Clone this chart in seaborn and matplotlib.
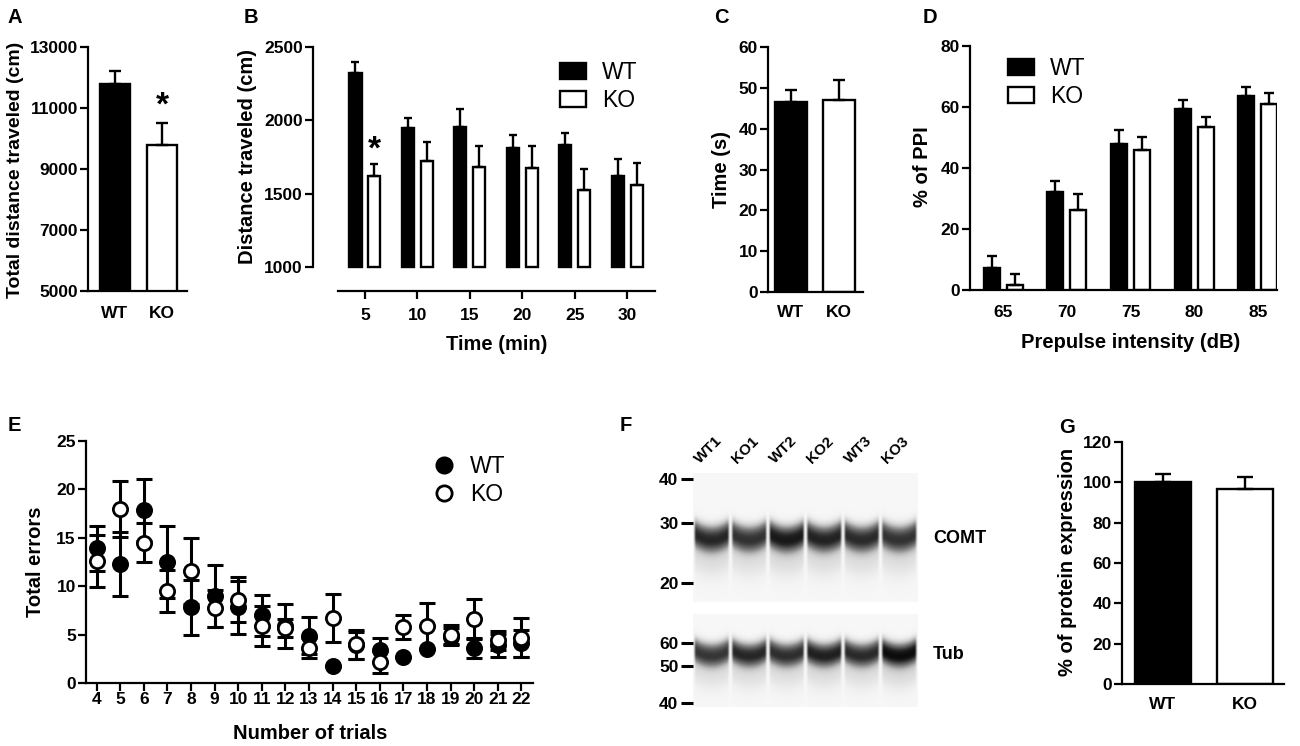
""" Multi-panel figure: open field, PPI, maze errors, western blot for WT vs KO mice. """

import numpy as np
import pandas as pd
import seaborn as sns
import matplotlib.pyplot as plt
from matplotlib.patches import Patch
from matplotlib.lines import Line2D

# ---- data ----
genotypes = ["WT", "KO"]

# A: total distance travelled (cm), mean and SEM
total_distance = [11800, 9800]
total_distance_sem = [400, 700]

# B: distance per 5-min bin (cm)
time_bins = [5, 10, 15, 20, 25, 30]
dist_wt = [2320, 1950, 1955, 1810, 1830, 1620]
dist_wt_sem = [80, 65, 120, 90, 85, 115]
dist_ko = [1620, 1725, 1685, 1675, 1525, 1560]
dist_ko_sem = [80, 130, 140, 150, 140, 150]

# C: time (s)
center_time = [46.5, 47.0]
center_time_sem = [3.0, 4.8]

# D: prepulse inhibition (%)
prepulse_db = [65, 70, 75, 80, 85]
ppi_wt = [7.2, 32.2, 47.9, 59.2, 63.6]
ppi_wt_sem = [4.0, 3.7, 4.5, 3.0, 3.0]
ppi_ko = [1.5, 26.2, 46.0, 53.3, 61.0]
ppi_ko_sem = [3.8, 5.2, 4.2, 3.4, 3.5]

# E: total errors per trial
trials = [4, 5, 6, 7, 8, 9, 10, 11, 12, 13, 14, 15, 16, 17, 18, 19, 20, 21, 22]
errors_wt = [13.9, 12.3, 17.9, 12.5, 7.8, 9.0, 7.8, 7.0, 5.9, 4.9, 1.8, 3.9,
             3.4, 2.7, 3.5, 4.8, 3.6, 3.9, 4.1]
errors_wt_sem = [2.3, 3.3, 3.2, 3.7, 2.8, 3.2, 2.7, 2.1, 2.3, 1.9, 0.0, 1.4,
                 1.2, 0.0, 0.0, 0.9, 1.0, 1.2, 1.4]
errors_ko = [12.6, 18.0, 14.5, 9.5, 11.6, 7.7, 8.6, 5.9, 5.7, 3.6, 6.7, 4.0,
             2.2, 5.8, 5.9, 5.0, 6.6, 4.4, 4.7]
errors_ko_sem = [2.65, 2.9, 2.0, 2.2, 3.4, 1.9, 2.3, 2.1, 0.9, 1.0, 2.45, 1.5,
                 1.15, 1.25, 2.4, 1.0, 2.1, 1.0, 2.0]

# F: western blot, relative band darkness per lane
lanes = ["WT1", "KO1", "WT2", "KO2", "WT3", "KO3"]
comt_band = [0.74, 0.71, 0.78, 0.75, 0.73, 0.71]
tub_band = [0.70, 0.74, 0.72, 0.76, 0.73, 0.82]
comt_ladder_kda = ["40", "30", "20"]
comt_ladder_pos = [0.047, 0.39, 0.85]
tub_ladder_kda = ["60", "50", "40"]
tub_ladder_pos = [0.31, 0.56, 0.96]
comt_band_pos = 0.51
tub_band_pos = 0.44

# G: protein expression (%)
protein_expr = [100.0, 96.5]
protein_expr_sem = [4.0, 6.3]

palette = {"WT": "black", "KO": "white"}

# ---- style ----
sns.set_theme(style="ticks")
plt.rcParams.update({
    "axes.linewidth": 1.6,
    "axes.edgecolor": "black",
    "axes.labelcolor": "black",
    "axes.labelweight": "bold",
    "axes.labelsize": 14.5,
    "xtick.color": "black",
    "ytick.color": "black",
    "xtick.labelsize": 12.5,
    "ytick.labelsize": 12.5,
    "xtick.major.width": 1.6,
    "ytick.major.width": 1.6,
    "xtick.major.size": 5.8,
    "ytick.major.size": 5.8,
    "ytick.major.pad": 1.5,
    "font.weight": "bold",
    "text.color": "black",
})
plt.rcParams["font.family"] = ["Liberation Sans", "DejaVu Sans"]

BAR_LW = 1.7
ERR_LW = 1.7
W, H = 1300, 746
fig = plt.figure(figsize=(W / 100, H / 100), dpi=100)


def add_ax(rect):
    l, t, r, b = rect
    return fig.add_axes([l / W, 1 - b / H, (r - l) / W, (b - t) / H])


def px_in_ax(rect, px, py):
    l, t, r, b = rect
    return (px - l) / (r - l), (b - py) / (b - t)


def add_sem(ax, sems, capsize):
    bars = [p for c in ax.containers for p in c]
    xs = [p.get_x() + p.get_width() / 2 for p in bars]
    tops = [p.get_y() + p.get_height() for p in bars]
    ax.errorbar(xs, tops, yerr=[np.zeros(len(bars)), sems], fmt="none",
                ecolor="black", elinewidth=ERR_LW, capsize=capsize,
                capthick=ERR_LW, zorder=3)
    return bars


def bar_legend(ax, x, y):
    handles = [Patch(facecolor=palette[g], edgecolor="black", linewidth=BAR_LW, label=g)
               for g in genotypes]
    ax.legend(handles=handles, loc="upper left", bbox_to_anchor=(x / W, 1 - y / H),
              bbox_transform=fig.transFigure, frameon=False, borderpad=0,
              borderaxespad=0, handlelength=1.12, handleheight=0.68,
              handletextpad=0.7, labelspacing=0.22,
              prop={"size": 16.5, "weight": "normal"})


def panel_letter(letter, x, y):
    fig.text(x / W, 1 - y / H, letter, ha="left", va="top", fontsize=14.5, weight="bold")


# ---- A ----
rect_a = (88, 47, 187, 291)
ax_a = add_ax(rect_a)
df_a = pd.DataFrame({"genotype": genotypes, "distance": total_distance})
sns.barplot(df_a, x="genotype", y="distance", hue="genotype", palette=palette,
            width=0.63, edgecolor="black", linewidth=BAR_LW, errorbar=None,
            legend=False, ax=ax_a)
bars_a = add_sem(ax_a, total_distance_sem, capsize=4)
ax_a.set_ylim(5000, 13000)
ax_a.set_yticks([5000, 7000, 9000, 11000, 13000])
ax_a.set_xlim(-0.57, 1.52)
ax_a.set_xlabel("")
ax_a.set_ylabel("Total distance traveled (cm)", fontsize=14)
ax_a.yaxis.set_label_coords(*px_in_ax(rect_a, 24, 170))
ax_a.tick_params(axis="x", length=0, pad=11)
ax_a.text(bars_a[1].get_x() + bars_a[1].get_width() / 2, 10560, "*",
          ha="center", va="bottom", fontsize=24, weight="bold")
sns.despine(ax=ax_a)
panel_letter("A", 7, 8)

# ---- B ----
rect_b = (313, 47, 655, 267)
ax_b = add_ax(rect_b)
df_b = pd.DataFrame({
    "time": time_bins * 2,
    "distance": dist_wt + dist_ko,
    "genotype": ["WT"] * len(time_bins) + ["KO"] * len(time_bins),
})
sns.barplot(df_b, x="time", y="distance", hue="genotype", palette=palette,
            width=0.72, gap=0.36, edgecolor="black", linewidth=BAR_LW,
            errorbar=None, legend=False, ax=ax_b)
B_BASE = 1000
for bar in [p for c in ax_b.containers for p in c]:
    top = bar.get_y() + bar.get_height()
    bar.set_y(B_BASE)
    bar.set_height(top - B_BASE)
    bar.set_clip_on(False)
bars_b = add_sem(ax_b, dist_wt_sem + dist_ko_sem, capsize=3)
ax_b.set_ylim(B_BASE, 2500)
ax_b.set_yticks([1000, 1500, 2000, 2500])
ax_b.set_xlim(-0.99, 5.53)
sns.despine(ax=ax_b)
ax_b.spines["bottom"].set_position(("outward", 17.3))
ax_b.spines["bottom"].set_bounds(-0.52, 5.53)
ax_b.tick_params(axis="x", pad=6.5)
ax_b.set_xlabel("Time (min)")
ax_b.xaxis.set_label_coords(*px_in_ax(rect_b, 497, 335))
ax_b.set_ylabel("Distance traveled (cm)")
ax_b.yaxis.set_label_coords(*px_in_ax(rect_b, 257, 157))
ko5 = bars_b[len(time_bins)]
ax_b.text(ko5.get_x() + ko5.get_width() / 2, 1692, "*", ha="center", va="bottom",
          fontsize=24, weight="bold")
bar_legend(ax_b, 560, 61)
panel_letter("B", 244, 8)

# ---- C ----
rect_c = (768, 47, 863, 292)
ax_c = add_ax(rect_c)
df_c = pd.DataFrame({"genotype": genotypes, "time": center_time})
sns.barplot(df_c, x="genotype", y="time", hue="genotype", palette=palette,
            width=0.65, edgecolor="black", linewidth=BAR_LW, errorbar=None,
            legend=False, ax=ax_c)
add_sem(ax_c, center_time_sem, capsize=4.2)
ax_c.set_ylim(0, 60)
ax_c.set_yticks([0, 10, 20, 30, 40, 50, 60])
ax_c.set_xlim(-0.48, 1.5)
ax_c.set_xlabel("")
ax_c.set_ylabel("Time (s)")
ax_c.yaxis.set_label_coords(*px_in_ax(rect_c, 731, 169))
ax_c.tick_params(axis="x", length=0, pad=9.5)
sns.despine(ax=ax_c)
panel_letter("C", 714, 8)

# ---- D ----
rect_d = (970, 46, 1277, 290)
ax_d = add_ax(rect_d)
df_d = pd.DataFrame({
    "db": prepulse_db * 2,
    "ppi": ppi_wt + ppi_ko,
    "genotype": ["WT"] * len(prepulse_db) + ["KO"] * len(prepulse_db),
})
sns.barplot(df_d, x="db", y="ppi", hue="genotype", palette=palette,
            width=0.72, gap=0.3, edgecolor="black", linewidth=BAR_LW,
            errorbar=None, legend=False, ax=ax_d)
add_sem(ax_d, ppi_wt_sem + ppi_ko_sem, capsize=3.5)
ax_d.set_ylim(0, 80)
ax_d.set_yticks([0, 20, 40, 60, 80])
ax_d.set_xlim(-0.52, 4.3)
ax_d.tick_params(axis="x", length=0, pad=11)
ax_d.set_xlabel("Prepulse intensity (dB)")
ax_d.xaxis.set_label_coords(*px_in_ax(rect_d, 1131, 333))
ax_d.set_ylabel("% of PPI")
ax_d.yaxis.set_label_coords(*px_in_ax(rect_d, 932, 167))
sns.despine(ax=ax_d)
bar_legend(ax_d, 1008, 57)
panel_letter("D", 923, 8)

# ---- E ----
rect_e = (86, 441, 533, 683)
ax_e = add_ax(rect_e)
df_e = pd.DataFrame({
    "trial": trials * 2,
    "errors": errors_wt + errors_ko,
    "sem": errors_wt_sem + errors_ko_sem,
    "genotype": ["WT"] * len(trials) + ["KO"] * len(trials),
})
for i, g in enumerate(genotypes):
    sub = df_e[df_e["genotype"] == g]
    ax_e.errorbar(sub["trial"], sub["errors"], yerr=sub["sem"], fmt="none",
                  ecolor="black", elinewidth=2.2, capsize=5.5, capthick=2.2,
                  zorder=2 + 2 * i)
    sns.scatterplot(sub, x="trial", y="errors", color=palette[g], edgecolor="black",
                    linewidth=2.0, s=105, legend=False, zorder=3 + 2 * i, ax=ax_e)
ax_e.set_ylim(0, 25)
ax_e.set_yticks([0, 5, 10, 15, 20, 25])
ax_e.set_xlim(3.55, 22.49)
ax_e.set_xticks(trials)
ax_e.tick_params(axis="x", pad=1)
ax_e.set_xlabel("Number of trials")
ax_e.xaxis.set_label_coords(*px_in_ax(rect_e, 310, 724))
ax_e.set_ylabel("Total errors")
ax_e.yaxis.set_label_coords(*px_in_ax(rect_e, 45, 562))
sns.despine(ax=ax_e)
e_handles = [Line2D([], [], linestyle="none", marker="o", markersize=11,
                    markerfacecolor=palette[g], markeredgecolor="black",
                    markeredgewidth=2.0, label=g) for g in genotypes]
ax_e.legend(handles=e_handles, loc="upper left", bbox_to_anchor=(433 / W, 1 - 455 / H),
            bbox_transform=fig.transFigure, frameon=False, borderpad=0,
            borderaxespad=0, handlelength=1.0, handletextpad=0.6,
            labelspacing=0.22, prop={"size": 16.5, "weight": "normal"})
panel_letter("E", 8, 416)


# ---- F: western blot ----
def blot_image(levels, band_pos, band_width, smile):
    rows = np.linspace(0, 1, 300)[:, None]
    cols = np.linspace(-1, 1, 60)[None, :]
    edge = np.clip((1.0 - np.abs(cols)) / 0.14, 0, 1)
    lane_imgs = []
    for level in levels:
        center = band_pos - smile * cols ** 2
        band = np.exp(-np.abs((rows - center) / band_width) ** 2.6)
        smear = 0.22 * np.exp(-((rows - center - 1.5 * band_width) / (1.5 * band_width)) ** 2)
        lane_imgs.append(level * (band + smear) * edge)
    return np.clip(0.065 + np.hstack(lane_imgs), 0, 1)


def blot_axes(rect, levels, band_pos, band_width, smile, ladder_pos, ladder_kda, name):
    ax = add_ax(rect)
    ax.imshow(blot_image(levels, band_pos, band_width, smile), cmap="Greys",
              vmin=0, vmax=1, aspect="auto", extent=[0, len(lanes), 1, 0],
              interpolation="bicubic")
    ax.set_xticks([])
    ax.set_yticks(ladder_pos)
    ax.set_yticklabels(ladder_kda)
    ax.tick_params(axis="y", length=8.5, width=2.2, pad=2)
    for s in ax.spines.values():
        s.set_visible(False)
    ax.text(len(lanes) + 0.4, band_pos, name, ha="left", va="center",
            fontsize=13, weight="bold")
    return ax


rect_f1 = (693, 473, 918, 602)
rect_f2 = (693, 614, 918, 707)
ax_f1 = blot_axes(rect_f1, comt_band, comt_band_pos, 0.105, 0.055,
                  comt_ladder_pos, comt_ladder_kda, "COMT")
ax_f2 = blot_axes(rect_f2, tub_band, tub_band_pos, 0.13, 0.07,
                  tub_ladder_pos, tub_ladder_kda, "Tub")
for i, lane in enumerate(lanes):
    ax_f1.text(i + 0.24, -0.05, lane, rotation=45, rotation_mode="anchor",
               ha="left", va="bottom", fontsize=11, weight="bold")
panel_letter("F", 620, 416)

# ---- G ----
rect_g = (1122, 442, 1284, 684)
ax_g = add_ax(rect_g)
df_g = pd.DataFrame({"genotype": genotypes, "expr": protein_expr})
sns.barplot(df_g, x="genotype", y="expr", hue="genotype", palette=palette,
            width=0.69, edgecolor="black", linewidth=BAR_LW, errorbar=None,
            legend=False, ax=ax_g)
add_sem(ax_g, protein_expr_sem, capsize=5.5)
ax_g.set_ylim(0, 120)
ax_g.set_yticks([0, 20, 40, 60, 80, 100, 120])
ax_g.set_xlim(-0.5, 1.48)
ax_g.set_xlabel("")
ax_g.set_ylabel("% of protein expression")
ax_g.yaxis.set_label_coords(*px_in_ax(rect_g, 1077, 562))
ax_g.tick_params(axis="x", length=0, pad=9.5)
sns.despine(ax=ax_g)
panel_letter("G", 1059, 418)

fig.savefig("out.png", dpi=100)
